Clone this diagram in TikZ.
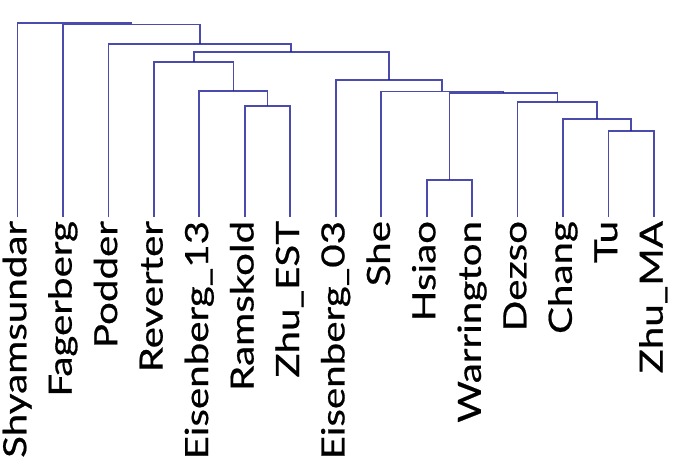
\documentclass[tikz,border=0pt]{standalone}
\usepackage{fontspec}
\newfontfamily\leaffont[FakeStretch=1.26,FakeBold=0.6]{Lato}
\definecolor{treeblue}{RGB}{30,30,150}
\tikzset{
  leaf/.style={rotate=90,anchor=east,inner sep=0pt,outer sep=4pt,
    text height=23.5pt,text depth=6pt,font=\leaffont\fontsize{32}{32}\selectfont},
  branch/.style={draw=treeblue,draw opacity=.8,line width=1.8pt}
}
\begin{document}
\begin{tikzpicture}[x=1pt,y=-1pt]
\useasboundingbox (0,0) rectangle (676,462);
% leaves
\foreach \n/\t [count=\i from 0] in {shy/Shyamsundar,fag/Fagerberg,pod/Podder,rev/Reverter,
  eia/Eisenberg\_13,ram/Ramskold,zhe/Zhu\_EST,eib/Eisenberg\_03,she/She,hsi/Hsiao,
  war/Warrington,dez/Dezso,cha/Chang,tu/Tu,zma/Zhu\_MA}
  \node[leaf] (\n) at (17.5+45.46*\i,217) {\t};
% junctions
\coordinate (jtu) at (631.2,131); \coordinate (jch) at (597.1,119); \coordinate (jdez) at (557.4,102);
\coordinate (jhs) at (449.4,180); \coordinate (jhw) at (503.4,93); \coordinate (jshe) at (442.3,91.5);
\coordinate (jeib) at (389,80); \coordinate (jram) at (267.5,106); \coordinate (jeia) at (233.4,91);
\coordinate (jrev) at (193.6,62); \coordinate (jmid) at (291.3,52); \coordinate (jpod) at (199.9,44);
\coordinate (jfag) at (131.4,24.5); \coordinate (jroot) at (74.5,23);
% branches
\draw[branch] (tu.east) |- (jtu) -| (zma.east);
\draw[branch] (cha.east) |- (jch) -| (jtu);
\draw[branch] (dez.east) |- (jdez) -| (jch);
\draw[branch] (hsi.east) |- (jhs) -| (war.east);
\draw[branch] (jhs) |- (jhw) -| (jdez);
\draw[branch] (she.east) |- (jshe) -| (jhw);
\draw[branch] (eib.east) |- (jeib) -| (jshe);
\draw[branch] (ram.east) |- (jram) -| (zhe.east);
\draw[branch] (eia.east) |- (jeia) -| (jram);
\draw[branch] (rev.east) |- (jrev) -| (jeia);
\draw[branch] (jrev) |- (jmid) -| (jeib);
\draw[branch] (pod.east) |- (jpod) -| (jmid);
\draw[branch] (fag.east) |- (jfag) -| (jpod);
\draw[branch] (shy.east) |- (jroot) -| (jfag);
\end{tikzpicture}
\end{document}
